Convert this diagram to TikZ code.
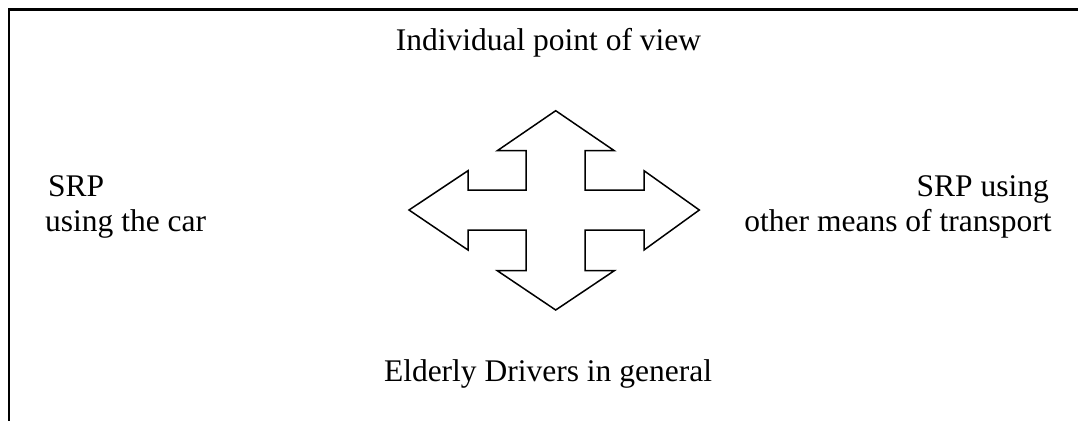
\documentclass[tikz,border=0pt]{standalone}
\usepackage{fontspec}
\setmainfont{Liberation Serif}
\begin{document}
\begin{tikzpicture}[x=1pt,y=-1pt,
  lbl/.style={inner sep=0pt, font=\fontsize{31.5}{35}\selectfont},
  frameline/.style={line width=2.2pt, draw=black},
  arrowshape/.style={line width=1.5pt, draw=black, line join=miter}]
\useasboundingbox (0,0) rectangle (1078,421);
% page frame (top and left edges)
\draw[frameline] (1078,9.5) -- (8.7,9.5) -- (8.7,421);
% four-way arrow
\draw[arrowshape]
  (555.7,110.7) -- (614.3,150.7) -- (585,150.7) -- (585,190) -- (644,190) -- (644,170.7)
  -- (699.3,210) -- (644,250) -- (644,230) -- (585,230) -- (585,270.7) -- (614.3,270.7)
  -- (555.7,310) -- (497.3,270.7) -- (526,270.7) -- (526,230) -- (468,230) -- (468,250)
  -- (409,210) -- (468,170.7) -- (468,190) -- (526,190) -- (526,150.7) -- (497.3,150.7) -- cycle;
\node[lbl, anchor=base] (top) at (548.5,50) {Individual point of view};
\node[lbl, anchor=base] (bottom) at (548,381.7) {Elderly Drivers in general};
\node[lbl, anchor=base west, align=left] (left) at (45,231.7) {\hspace*{3pt}SRP\\using the car};
\node[lbl, anchor=base east, align=right] (right) at (1051.7,231.7) {SRP using\hspace*{2.7pt}\\other means of transport};
\end{tikzpicture}
\end{document}
